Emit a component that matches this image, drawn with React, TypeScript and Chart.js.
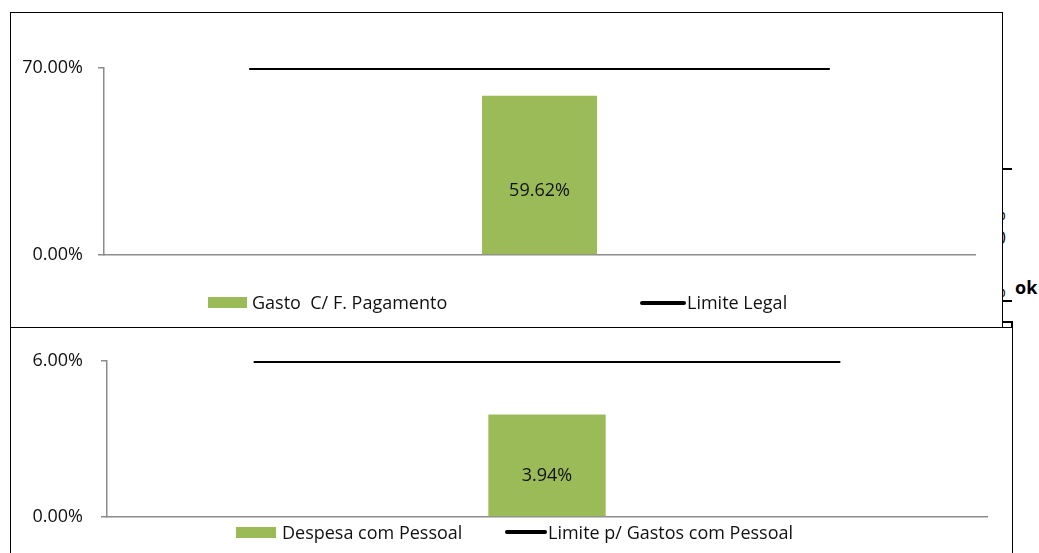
import React, { useEffect, useRef } from "react";
import { Chart, registerables } from "chart.js";

Chart.register(...registerables);

const FONT = "'Open Sans', sans-serif";
const FS = 18;

// ---- top chart data ----
const topCategories = ["", "", ""];
const topBarLabel = "Gasto  C/ F. Pagamento";
const topLineLabel = "Limite Legal";
const topBarValues = [null, 59.62, null];
const topLineValues = [70, 70, 70];
const topTicks = [0, 70];

// ---- bottom chart data ----
const bottomCategories = ["", "", ""];
const bottomBarLabel = "Despesa com Pessoal";
const bottomLineLabel = "Limite p/ Gastos com Pessoal";
const bottomBarValues = [null, 3.94, null];
const bottomLineValues = [6, 6, 6];
const bottomTicks = [0, 6];

const GREEN = "#9BBB59";
const TEXT = "#111";
const AXIS = "#8c8c8c";

const valueLabelPlugin = {
  id: "valueLabel",
  afterDatasetsDraw(chart: any) {
    const ctx = chart.ctx;
    const meta = chart.getDatasetMeta(0);
    const ds = chart.data.datasets[0];
    ctx.save();
    ctx.font = `${FS}px ${FONT}`;
    ctx.fillStyle = TEXT;
    ctx.textAlign = "center";
    ctx.textBaseline = "middle";
    meta.data.forEach((el: any, i: number) => {
      const v = ds.data[i];
      if (v === null || v === undefined) return;
      const y = el.y + (el.base - el.y) * 0.6;
      ctx.fillText(v.toFixed(2) + "%", el.x, y);
    });
    ctx.restore();
  },
};

function makeConfig(
  cats: string[],
  barVals: (number | null)[],
  lineVals: number[],
  barLabel: string,
  lineLabel: string,
  ticks: number[],
  yWidth: number,
  tickPad: number,
  padding: any,
  barPct: number
): any {
  return {
    type: "bar",
    data: {
      labels: cats,
      datasets: [
        {
          type: "bar",
          label: barLabel,
          data: barVals,
          backgroundColor: GREEN,
          borderWidth: 0,
          barPercentage: barPct,
          categoryPercentage: 1,
          order: 2,
        },
        {
          type: "line",
          label: lineLabel,
          data: lineVals,
          borderColor: "#000",
          borderWidth: 4,
          pointRadius: 0,
          fill: false,
          order: 1,
        },
      ],
    },
    options: {
      animation: false,
      responsive: false,
      maintainAspectRatio: false,
      layout: { padding },
      plugins: { legend: { display: false }, tooltip: { enabled: false } },
      scales: {
        x: {
          ticks: { display: false },
          grid: { display: false },
          border: { display: true, color: AXIS, width: 1.5 },
          afterFit: (s: any) => {
            s.height = 0;
          },
        },
        y: {
          min: ticks[0],
          max: ticks[ticks.length - 1],
          afterBuildTicks: (s: any) => {
            s.ticks = ticks.map((v) => ({ value: v }));
          },
          ticks: {
            font: { family: FONT, size: FS },
            color: TEXT,
            padding: tickPad,
            callback: (v: any) => Number(v).toFixed(2) + "%",
          },
          grid: { drawOnChartArea: false, tickLength: 6, color: AXIS, lineWidth: 1.5 },
          border: { display: true, color: AXIS, width: 1.5 },
          afterFit: (s: any) => {
            s.width = yWidth;
          },
        },
      },
    },
    plugins: [valueLabelPlugin],
  };
}

const legendText: React.CSSProperties = {
  position: "absolute",
  fontFamily: FONT,
  fontSize: FS,
  color: TEXT,
  whiteSpace: "pre",
  lineHeight: "22px",
};

export default function App() {
  const topRef = useRef<HTMLCanvasElement>(null);
  const botRef = useRef<HTMLCanvasElement>(null);

  useEffect(() => {
    const c1 = new Chart(
      topRef.current as HTMLCanvasElement,
      makeConfig(
        topCategories,
        topBarValues,
        topLineValues,
        topBarLabel,
        topLineLabel,
        topTicks,
        104,
        15,
        { top: 68, bottom: 72, left: 0, right: 64 },
        0.396
      )
    );
    const c2 = new Chart(
      botRef.current as HTMLCanvasElement,
      makeConfig(
        bottomCategories,
        bottomBarValues,
        bottomLineValues,
        bottomBarLabel,
        bottomLineLabel,
        bottomTicks,
        107,
        18,
        { top: 34, bottom: 36, left: 0, right: 52 },
        0.4
      )
    );
    return () => {
      c1.destroy();
      c2.destroy();
    };
  }, []);

  return (
    <div
      style={{
        position: "fixed",
        left: 0,
        top: 0,
        width: 1039,
        height: 553,
        overflow: "hidden",
        background: "#fff",
      }}
    >
      {/* clipped fragments at right */}
      <div style={{ position: "absolute", left: 1002, top: 168, width: 10, height: 1.5, background: "#000" }} />
      <div style={{ position: "absolute", left: 1002, top: 300, width: 10, height: 1.5, background: "#000" }} />
      <div style={{ position: "absolute", left: 1002, top: 321, width: 11, height: 1.5, background: "#000" }} />
      <div style={{ position: "absolute", left: 1011, top: 321, width: 1.5, height: 240, background: "#000" }} />
      <div style={{ position: "absolute", left: 996, top: 170, width: 10, height: 130, overflow: "hidden" }}>
        {["1", "%", "0", "1", "%"].map((t, i) => (
          <div
            key={i}
            style={{
              position: "absolute",
              right: 0,
              top: [2, 33, 57, 86, 110][i],
              fontFamily: FONT,
              fontSize: FS,
              color: TEXT,
              lineHeight: "20px",
            }}
          >
            {t}
          </div>
        ))}
      </div>
      <div
        style={{
          position: "absolute",
          left: 1015,
          top: 276,
          fontFamily: FONT,
          fontWeight: 700,
          fontSize: 18,
          color: "#000",
          lineHeight: "22px",
        }}
      >
        ok
      </div>

      {/* top box */}
      <div
        style={{
          position: "absolute",
          left: 10,
          top: 12,
          width: 993,
          height: 316,
          border: "1.5px solid #000",
          boxSizing: "border-box",
          background: "#fff",
        }}
      />
      <canvas
        ref={topRef}
        width={1039}
        height={327}
        style={{ position: "absolute", left: 0, top: 0, width: 1039, height: 327 }}
      />
      <div style={{ position: "absolute", left: 208, top: 297, width: 39, height: 11, background: GREEN }} />
      <div style={{ ...legendText, left: 252, top: 291 }}>{topBarLabel}</div>
      <div style={{ position: "absolute", left: 640, top: 301, width: 46, height: 4, background: "#000", borderRadius: 2 }} />
      <div style={{ ...legendText, left: 687, top: 291 }}>{topLineLabel}</div>

      {/* bottom box */}
      <div
        style={{
          position: "absolute",
          left: 10,
          top: 327,
          width: 1003,
          height: 240,
          borderLeft: "1.5px solid #000",
          borderTop: "1.5px solid #000",
          borderRight: "1.5px solid #000",
          boxSizing: "border-box",
          background: "#fff",
        }}
      />
      <canvas
        ref={botRef}
        width={1039}
        height={226}
        style={{ position: "absolute", left: 0, top: 327, width: 1039, height: 226 }}
      />
      <div style={{ position: "absolute", left: 236, top: 527, width: 40, height: 11, background: GREEN }} />
      <div style={{ ...legendText, left: 282, top: 521 }}>{bottomBarLabel}</div>
      <div style={{ position: "absolute", left: 505, top: 530, width: 42, height: 4, background: "#000", borderRadius: 2 }} />
      <div style={{ ...legendText, left: 548, top: 521 }}>{bottomLineLabel}</div>
    </div>
  );
}
